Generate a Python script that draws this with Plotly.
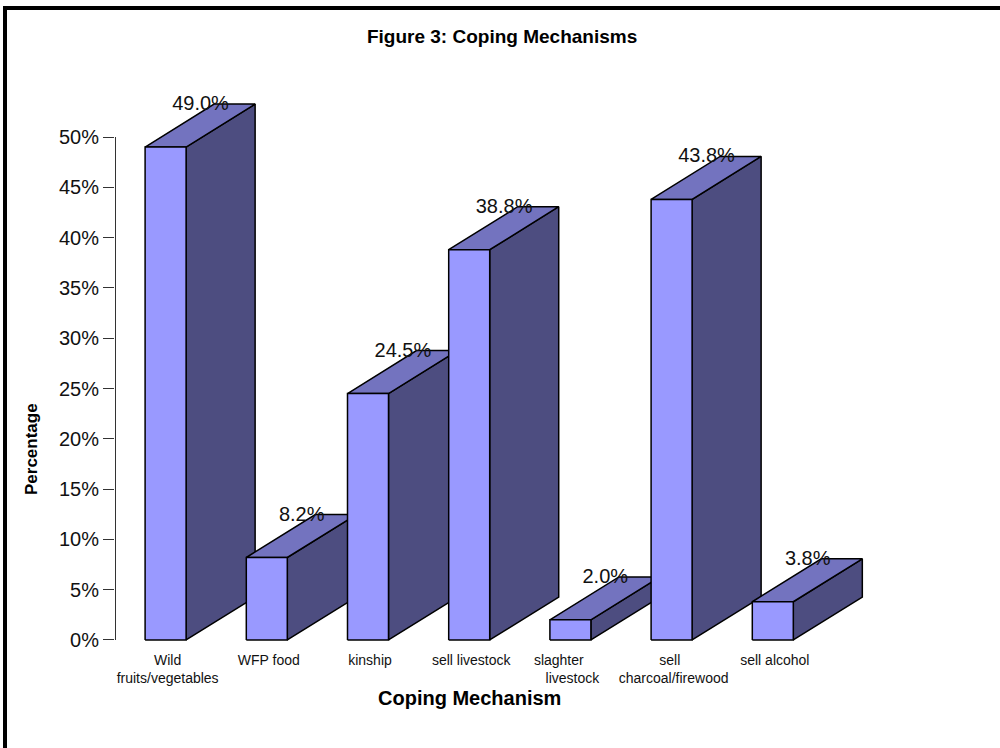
import plotly.graph_objects as go

# Survey results: share of households using each coping mechanism
categories = [
    "Wild<br>fruits/vegetables",
    "WFP food",
    "kinship",
    "sell livestock",
    "slaghter\u00a0\u00a0\u00a0\u00a0\u00a0\u00a0\u00a0<br>livestock",
    "sell\u00a0\u00a0<br>charcoal/firewood",
    "sell alcohol",
]
values = [49.0, 8.2, 24.5, 38.8, 2.0, 43.8, 3.8]
y_ticks = [0, 5, 10, 15, 20, 25, 30, 35, 40, 45, 50]

FRONT = "#9999FF"
TOP = "#7373BF"
SIDE = "#4D4D80"

# Pseudo-3D extrusion, in axis units
HALF_W = 0.2026
DEPTH_X = 0.682
DEPTH_Y = 4.27

fig = go.Figure()


def face(xs, ys, color):
    fig.add_trace(go.Scatter(
        x=xs + xs[:1], y=ys + ys[:1], mode="lines", fill="toself",
        fillcolor=color, line=dict(color="black", width=1.5),
        hoverinfo="skip", showlegend=False,
    ))


# Each bar is painted back to front so later bars cover earlier depth faces
for i, v in enumerate(values):
    l, r = i - HALF_W, i + HALF_W
    face([r, r + DEPTH_X, r + DEPTH_X, r], [0, DEPTH_Y, v + DEPTH_Y, v], SIDE)
    face([l, r, r + DEPTH_X, l + DEPTH_X], [v, v, v + DEPTH_Y, v + DEPTH_Y], TOP)
    face([l, r, r, l], [0, 0, v, v], FRONT)

# Value axis line stops at the last tick
fig.add_trace(go.Scatter(
    x=[-0.5, -0.5], y=[y_ticks[0], y_ticks[-1]], mode="lines",
    line=dict(color="#333333", width=2), hoverinfo="skip", showlegend=False,
))

# Value labels sit at the rear top edge of each bar
fig.add_trace(go.Scatter(
    x=[i + 0.345 for i in range(len(values))],
    y=[v + DEPTH_Y - 0.1 for v in values],
    mode="text", text=[f"{v:.1f}%" for v in values],
    textposition="middle center",
    textfont=dict(family="Liberation Sans", size=20, color="#111111"),
    hoverinfo="skip", showlegend=False, cliponaxis=False,
))

fig.update_layout(
    width=1000, height=748, autosize=False,
    margin=dict(l=115, r=126, t=100, b=105),
    paper_bgcolor="white", plot_bgcolor="white",
    font=dict(family="Liberation Sans", color="#111111"),
    title=dict(
        text="<b>Figure 3: Coping Mechanisms</b>",
        x=0.51, xanchor="center", xref="paper",
        y=1 - 36 / 748, yanchor="middle", yref="container",
        font=dict(size=19, color="black"),
    ),
    xaxis=dict(
        range=[-0.5, 7.0], tickmode="array",
        tickvals=[i + 0.02 for i in range(len(categories))], ticktext=categories,
        showgrid=False, zeroline=False, showline=False, ticks="",
        tickfont=dict(size=14), tickangle=0, ticklabelstandoff=7,
    ),
    yaxis=dict(
        range=[-0.3, 53.68], tickmode="array", tickvals=y_ticks,
        ticktext=[f"{t}%" for t in y_ticks],
        showgrid=False, zeroline=False, showline=False,
        ticks="outside", ticklen=11, tickwidth=1, tickcolor="#333333",
        tickfont=dict(size=20),
    ),
    annotations=[
        dict(text="<b>Coping Mechanism</b>", xref="paper", yref="paper",
             x=(469 - 115) / 759, y=-(698 - 643) / 543, showarrow=False,
             xanchor="center", yanchor="middle",
             font=dict(size=20, color="black")),
        dict(text="<b>Percentage</b>", xref="paper", yref="paper",
             x=-(115 - 31) / 759, y=(643 - 449) / 543, showarrow=False,
             textangle=-90, xanchor="center", yanchor="middle",
             font=dict(size=17, color="black")),
    ],
    shapes=[
        # Heavy page frame along the top and left edges
        dict(type="rect", xref="paper", yref="paper", layer="below",
             x0=(3 - 115) / 759, x1=(1000 - 115) / 759,
             y0=(643 - 10) / 543, y1=(643 - 6) / 543,
             fillcolor="black", line=dict(width=0)),
        dict(type="rect", xref="paper", yref="paper", layer="below",
             x0=(3 - 115) / 759, x1=(7 - 115) / 759,
             y0=(643 - 748) / 543, y1=(643 - 6) / 543,
             fillcolor="black", line=dict(width=0)),
    ],
)

fig.write_html("out.html", config=dict(displayModeBar=False))
